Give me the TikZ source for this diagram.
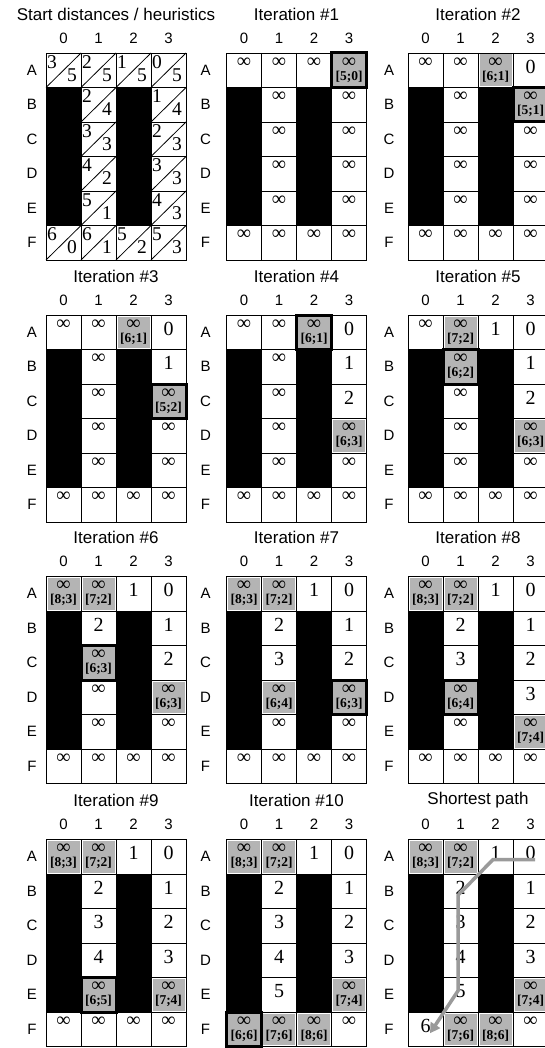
\documentclass[tikz,border=0pt]{standalone}
\usepackage{fontspec}
\setmainfont{Liberation Serif}
\setsansfont{Liberation Sans}
\usetikzlibrary{arrows.meta}
\definecolor{openfill}{HTML}{B4B4B4}
\definecolor{pathgray}{HTML}{9A9A9A}

% one panel: name, grid corner x, y, title, label offset
\newcommand{\gridpanel}[5]{%
  \node[ttl] (#1-title) at (#2+70,#3-39) {#4};
  \foreach \cl in {0,...,3}
    \node[lbl] (#1-col\cl) at (#2+35*\cl+17.5,#3-15) {\cl};
  \foreach \rw/\rl in {0/A,1/B,2/C,3/D,4/E,5/F}{
    \node[lbl] (#1-row\rl) at (#2-#5,#3+34.5*\rw+17.25) {\rl};
    \foreach \cl in {0,...,3}
      \coordinate (#1-\rl\cl) at (#2+35*\cl+17.5,#3+34.5*\rw+17.25);
  }
  \fill (#2,#3+34.5) rectangle ++(35,138);
  \fill (#2+70,#3+34.5) rectangle ++(35,138);
  \foreach \cl in {1,2,3} \draw[gridline] (#2+35*\cl,#3) -- ++(0,207);
  \foreach \rw in {1,...,5} \draw[gridline] (#2,#3+34.5*\rw) -- ++(140,0);
  \draw[gridline] (#2,#3) rectangle ++(140,207);
}
\newcommand{\infcell}[2]{\node[inftext] (#1-#2-v) at (#1-#2) {∞};}
\newcommand{\fincell}[3]{\node[disttext] (#1-#2-v) at (#1-#2) {#3};}
\newcommand{\opencell}[3]{%
  \node[openbox] (#1-#2-b) at (#1-#2) {};
  \node[inftext] (#1-#2-v) at (#1-#2) {∞};
  \node[scoretext] (#1-#2-f) at (#1-#2) {[#3]};}
\newcommand{\curcell}[2]{\node[curbox] (#1-#2-c) at (#1-#2) {};}
\newcommand{\sdcell}[3]{%
  \draw[gridline] (p1-#1) +(-17.5,17.25) -- +(17.5,-17.25);
  \node[sdtext,xshift=-11.5pt,yshift=8.5pt] (p1-#1-g) at (p1-#1) {#2};
  \node[sdtext,xshift=8.5pt,yshift=-4.75pt] (p1-#1-h) at (p1-#1) {#3};}

\begin{document}
\begin{tikzpicture}[x=1pt,y=-1pt,
  gridline/.style={line width=0.8pt},
  ttl/.style={font=\sffamily\fontsize{17}{17}\selectfont},
  lbl/.style={font=\sffamily\fontsize{15}{15}\selectfont},
  sdtext/.style={font=\fontsize{19.5}{19.5}\selectfont,inner sep=0pt},
  disttext/.style={font=\fontsize{20}{20}\selectfont,inner sep=0pt,yshift=3.5pt},
  inftext/.style={font=\fontsize{20}{20}\selectfont,inner sep=0pt,yshift=8pt},
  scoretext/.style={font=\bfseries\fontsize{13.5}{13.5}\selectfont,inner sep=0pt,yshift=-6.5pt},
  openbox/.style={fill=openfill,inner sep=0pt,minimum width=32pt,minimum height=31.5pt},
  curbox/.style={draw,line width=3pt,inner sep=0pt,minimum width=35pt,minimum height=34.5pt},
  pathline/.style={draw=pathgray,line width=3.5pt,-{Triangle[length=10pt,width=11pt]}}]
  \useasboundingbox (0,0) rectangle (544,1048);

  \gridpanel{p1}{46}{53}{Start distances / heuristics}{14}
  \gridpanel{p2}{226.5}{53}{Iteration \#1}{21}
  \gridpanel{p3}{408}{53}{Iteration \#2}{19}
  \gridpanel{p4}{46}{315}{Iteration \#3}{14}
  \gridpanel{p5}{226.5}{315}{Iteration \#4}{21}
  \gridpanel{p6}{408}{315}{Iteration \#5}{19}
  \gridpanel{p7}{46}{576.5}{Iteration \#6}{14}
  \gridpanel{p8}{226.5}{576.5}{Iteration \#7}{21}
  \gridpanel{p9}{408}{576.5}{Iteration \#8}{19}
  \gridpanel{p10}{46}{839.5}{Iteration \#9}{14}
  \gridpanel{p11}{226.5}{839.5}{Iteration \#10}{21}
  \gridpanel{p12}{408}{839.5}{Shortest path}{19}

  % start distances / heuristics
  \foreach \k/\g/\h in {A0/3/5,A1/2/5,A2/1/5,A3/0/5,B1/2/4,B3/1/4,C1/3/3,C3/2/3,
      D1/4/2,D3/3/3,E1/5/1,E3/4/3,F0/6/0,F1/6/1,F2/5/2,F3/5/3}
    {\sdcell{\k}{\g}{\h}}

  % iteration 1
  \foreach \k in {A0,A1,A2,B1,B3,C1,C3,D1,D3,E1,E3,F0,F1,F2,F3} {\infcell{p2}{\k}}
  \opencell{p2}{A3}{5;0}
  \curcell{p2}{A3}

  % iteration 2
  \foreach \k in {A0,A1,B1,C1,C3,D1,D3,E1,E3,F0,F1,F2,F3} {\infcell{p3}{\k}}
  \fincell{p3}{A3}{0}
  \opencell{p3}{A2}{6;1}
  \opencell{p3}{B3}{5;1}
  \curcell{p3}{B3}

  % iteration 3
  \foreach \k in {A0,A1,B1,C1,D1,D3,E1,E3,F0,F1,F2,F3} {\infcell{p4}{\k}}
  \foreach \k/\v in {A3/0,B3/1} {\fincell{p4}{\k}{\v}}
  \opencell{p4}{A2}{6;1}
  \opencell{p4}{C3}{5;2}
  \curcell{p4}{C3}

  % iteration 4
  \foreach \k in {A0,A1,B1,C1,D1,E1,E3,F0,F1,F2,F3} {\infcell{p5}{\k}}
  \foreach \k/\v in {A3/0,B3/1,C3/2} {\fincell{p5}{\k}{\v}}
  \opencell{p5}{A2}{6;1}
  \opencell{p5}{D3}{6;3}
  \curcell{p5}{A2}

  % iteration 5
  \foreach \k in {A0,C1,D1,E1,E3,F0,F1,F2,F3} {\infcell{p6}{\k}}
  \foreach \k/\v in {A2/1,A3/0,B3/1,C3/2} {\fincell{p6}{\k}{\v}}
  \foreach \k/\s in {A1/7;2,B1/6;2,D3/6;3} {\opencell{p6}{\k}{\s}}
  \curcell{p6}{B1}

  % iteration 6
  \foreach \k in {D1,E1,E3,F0,F1,F2,F3} {\infcell{p7}{\k}}
  \foreach \k/\v in {A2/1,A3/0,B1/2,B3/1,C3/2} {\fincell{p7}{\k}{\v}}
  \foreach \k/\s in {A0/8;3,A1/7;2,C1/6;3,D3/6;3} {\opencell{p7}{\k}{\s}}
  \curcell{p7}{C1}

  % iteration 7
  \foreach \k in {E1,E3,F0,F1,F2,F3} {\infcell{p8}{\k}}
  \foreach \k/\v in {A2/1,A3/0,B1/2,B3/1,C1/3,C3/2} {\fincell{p8}{\k}{\v}}
  \foreach \k/\s in {A0/8;3,A1/7;2,D1/6;4,D3/6;3} {\opencell{p8}{\k}{\s}}
  \curcell{p8}{D3}

  % iteration 8
  \foreach \k in {E1,F0,F1,F2,F3} {\infcell{p9}{\k}}
  \foreach \k/\v in {A2/1,A3/0,B1/2,B3/1,C1/3,C3/2,D3/3} {\fincell{p9}{\k}{\v}}
  \foreach \k/\s in {A0/8;3,A1/7;2,D1/6;4,E3/7;4} {\opencell{p9}{\k}{\s}}
  \curcell{p9}{D1}

  % iteration 9
  \foreach \k in {F0,F1,F2,F3} {\infcell{p10}{\k}}
  \foreach \k/\v in {A2/1,A3/0,B1/2,B3/1,C1/3,C3/2,D1/4,D3/3} {\fincell{p10}{\k}{\v}}
  \foreach \k/\s in {A0/8;3,A1/7;2,E1/6;5,E3/7;4} {\opencell{p10}{\k}{\s}}
  \curcell{p10}{E1}

  % iteration 10
  \infcell{p11}{F3}
  \foreach \k/\v in {A2/1,A3/0,B1/2,B3/1,C1/3,C3/2,D1/4,D3/3,E1/5} {\fincell{p11}{\k}{\v}}
  \foreach \k/\s in {A0/8;3,A1/7;2,E3/7;4,F0/6;6,F1/7;6,F2/8;6} {\opencell{p11}{\k}{\s}}
  \curcell{p11}{F0}

  % shortest path
  \infcell{p12}{F3}
  \foreach \k/\v in {A2/1,A3/0,B1/2,B3/1,C1/3,C3/2,D1/4,D3/3,E1/5,F0/6} {\fincell{p12}{\k}{\v}}
  \foreach \k/\s in {A0/8;3,A1/7;2,E3/7;4,F1/7;6,F2/8;6} {\opencell{p12}{\k}{\s}}
  \draw[pathline] ([xshift=4.5pt,yshift=-2.8pt]p12-A3) -- ([xshift=-2.5pt,yshift=-2.8pt]p12-A2)
    -- ([xshift=-2.5pt,yshift=-4pt]p12-B1) -- ([xshift=-2.5pt,yshift=4pt]p12-E1)
    -- ([xshift=4.5pt,yshift=-4pt]p12-F0);
\end{tikzpicture}
\end{document}
